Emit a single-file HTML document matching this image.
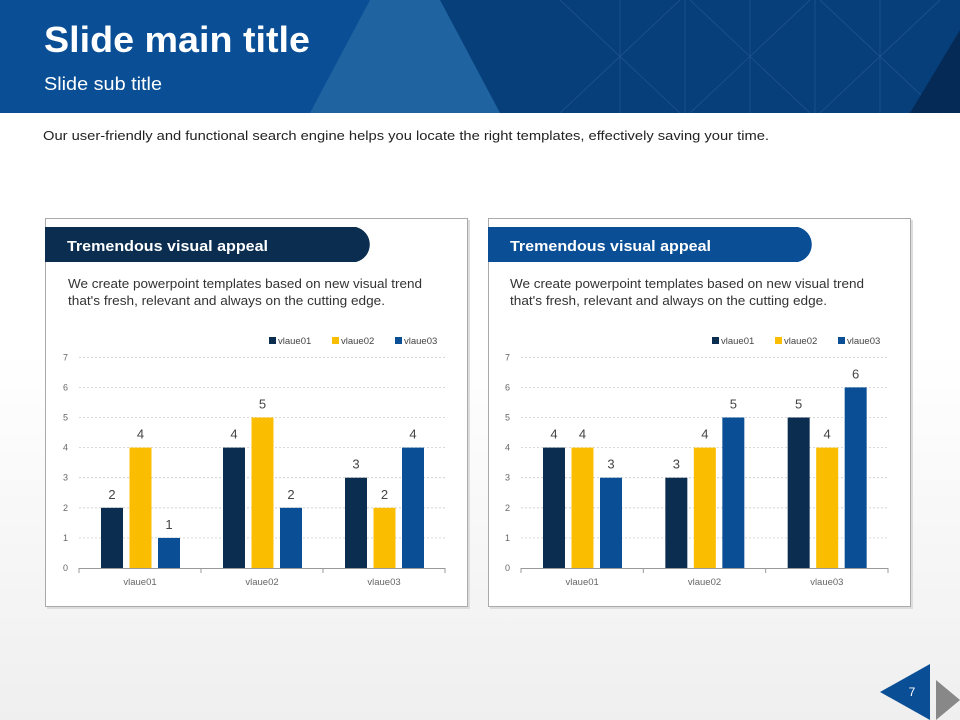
<!DOCTYPE html>
<html><head><meta charset="utf-8"><style>
body{margin:0;width:960px;height:720px;overflow:hidden;font-family:"Liberation Sans",sans-serif;background:linear-gradient(#fff 0,#fff 350px,#efefef 720px);}
svg{position:absolute;left:0;top:0}
</style></head><body>
<svg width="960" height="720" viewBox="0 0 960 720" font-family="Liberation Sans, sans-serif">
<rect x="0" y="0" width="960" height="113" fill="#0a4f96"/>
<polygon points="440,0 960,0 960,113 500,113" fill="#073f7a"/>
<polygon points="370,0 440,0 500,113 310,113" fill="#1f63a0"/>
<g stroke="#2a5e98" stroke-width="0.8" opacity="0.7">
<line x1="620" y1="0" x2="620" y2="113"/><line x1="685" y1="0" x2="685" y2="113"/><line x1="750" y1="0" x2="750" y2="113"/><line x1="815" y1="0" x2="815" y2="113"/><line x1="880" y1="0" x2="880" y2="113"/>
<line x1="560" y1="113" x2="680" y2="0"/><line x1="690" y1="113" x2="810" y2="0"/><line x1="820" y1="113" x2="940" y2="0"/>
<line x1="560" y1="0" x2="680" y2="113"/><line x1="690" y1="0" x2="810" y2="113"/><line x1="820" y1="0" x2="940" y2="113"/>
</g>
<polygon points="960,30 960,113 910,113" fill="#052a55"/>
<text x="44" y="52" font-size="36" font-weight="bold" fill="#fff" textLength="266" lengthAdjust="spacingAndGlyphs">Slide main title</text>
<text x="44" y="90" font-size="18" fill="#fff" textLength="118" lengthAdjust="spacingAndGlyphs">Slide sub title</text>
<text x="43" y="140" font-size="13" fill="#222" textLength="726" lengthAdjust="spacingAndGlyphs">Our user-friendly and functional search engine helps you locate the right templates, effectively saving your time.</text>

<!-- left card -->
<rect x="47" y="220" width="423" height="389" fill="#ddd"/>
<rect x="45.5" y="218.5" width="422" height="388" fill="#fff" stroke="#aaa"/>
<path d="M45 227H356a18 18 0 0 1 0 35H45Z" fill="#0a2d50"/>
<text x="67" y="251" font-size="15" font-weight="bold" fill="#fff" textLength="201" lengthAdjust="spacingAndGlyphs">Tremendous visual appeal</text>
<text x="68" y="288" font-size="12.5" fill="#333" textLength="354" lengthAdjust="spacingAndGlyphs">We create powerpoint templates based on new visual trend</text>
<text x="68" y="305" font-size="12.5" fill="#333" textLength="317" lengthAdjust="spacingAndGlyphs">that's fresh, relevant and always on the cutting edge.</text>

<!-- right card -->
<rect x="490" y="220" width="423" height="389" fill="#ddd"/>
<rect x="488.5" y="218.5" width="422" height="388" fill="#fff" stroke="#aaa"/>
<path d="M488 227H798a18 18 0 0 1 0 35H488Z" fill="#0a4f96"/>
<text x="510" y="251" font-size="15" font-weight="bold" fill="#fff" textLength="201" lengthAdjust="spacingAndGlyphs">Tremendous visual appeal</text>
<text x="510" y="288" font-size="12.5" fill="#333" textLength="354" lengthAdjust="spacingAndGlyphs">We create powerpoint templates based on new visual trend</text>
<text x="510" y="305" font-size="12.5" fill="#333" textLength="317" lengthAdjust="spacingAndGlyphs">that's fresh, relevant and always on the cutting edge.</text>

<script>
const NS="http://www.w3.org/2000/svg";const svg=document.querySelector('svg');
function el(t,a,txt){const e=document.createElementNS(NS,t);for(const k in a)e.setAttribute(k,a[k]);if(txt!=null)e.textContent=txt;svg.appendChild(e);return e;}
const cols=["#0a2d50","#fbbd00","#0a4f96"];
function chart(x0,x1,data){
 const y0=568,u=30.1;
 for(let i=1;i<=7;i++)el('line',{x1:x0,x2:x1,y1:y0-i*u,y2:y0-i*u,stroke:'#ccc','stroke-dasharray':'2,2','stroke-width':0.8});
 for(let i=0;i<=7;i++)el('text',{x:x0-11,y:y0-i*u+3,'font-size':9,fill:'#666','text-anchor':'end'},i);
 el('line',{x1:x0,x2:x1,y1:y0+.5,y2:y0+.5,stroke:'#999'});
 const cw=(x1-x0)/3;
 for(let c=0;c<=3;c++)el('line',{x1:x0+c*cw,x2:x0+c*cw,y1:y0,y2:y0+5,stroke:'#999'});
 ["vlaue01","vlaue02","vlaue03"].forEach((n,c)=>{
  el('text',{x:x0+c*cw+cw/2,y:y0+17,'font-size':9.5,fill:'#666','text-anchor':'middle'},n);
  data[c].forEach((v,s)=>{const bx=x0+c*cw+22+s*28.5;
   el('rect',{x:bx,y:y0-v*u,width:22,height:v*u,fill:cols[s]});
   el('text',{x:bx+11,y:y0-v*u-9,'font-size':13,fill:'#444','text-anchor':'middle'},v);});
 });
 ["vlaue01","vlaue02","vlaue03"].forEach((n,s)=>{const lx=x1-176+s*63;
  el('rect',{x:lx,y:337,width:7,height:7,fill:cols[s]});
  el('text',{x:lx+9,y:344,'font-size':9.5,fill:'#444'},n);});
}
chart(79,445,[[2,4,1],[4,5,2],[3,2,4]]);
chart(521,888,[[4,4,3],[3,4,5],[5,4,6]]);
</script>
<polygon points="930,664 930,720 880,692" fill="#0a4f96"/>
<text x="912" y="696" font-size="12" fill="#fff" text-anchor="middle">7</text>
<polygon points="936,680 936,720 960,700" fill="#888"/>
</svg>
</body></html>
